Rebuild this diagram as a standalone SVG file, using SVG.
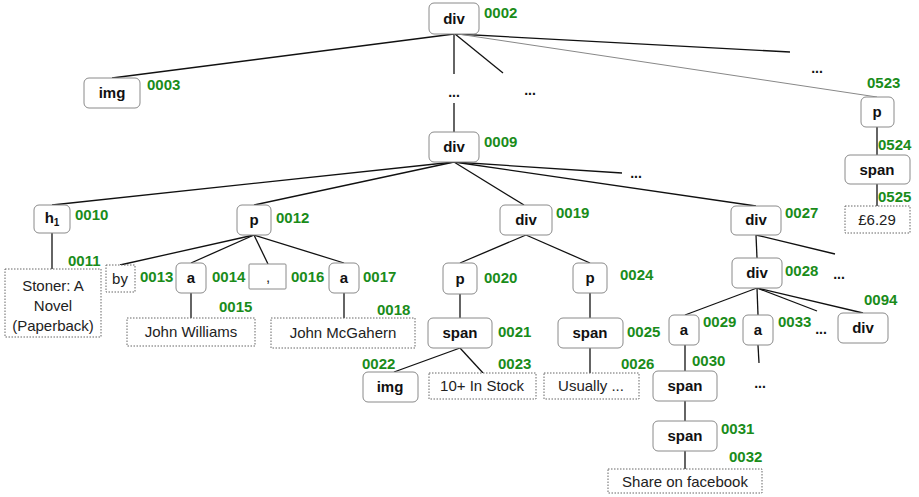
<svg xmlns="http://www.w3.org/2000/svg" width="919" height="497" viewBox="0 0 919 497">
<style>
.n{fill:#fff;stroke:#8a8a8a;stroke-width:1}
.d{fill:#fff;stroke:#666;stroke-width:1;stroke-dasharray:1.5 1.5}
.s{fill:#fff;stroke:#8a8a8a;stroke-width:1}
.t{font-family:"Liberation Sans",Arial,sans-serif;font-size:15px;font-weight:bold;fill:#111;text-anchor:middle}
.r{font-family:"Liberation Sans",Arial,sans-serif;font-size:15px;fill:#222;text-anchor:middle}
.l{font-family:"Liberation Sans",Arial,sans-serif;font-size:15px;font-weight:bold;fill:#1a8c1a}
.e{font-family:"Liberation Sans",Arial,sans-serif;font-size:14px;font-weight:bold;fill:#111;text-anchor:middle}
#edges line{stroke:#111;stroke-width:1.3}
#edges line.g{stroke:#888;stroke-width:1}
</style>
<rect width="919" height="497" fill="#fff"/>
<g id="edges">
<line x1="454" y1="34" x2="112" y2="78"/>
<line x1="454" y1="34" x2="454" y2="74"/>
<line x1="454" y1="103" x2="454" y2="132"/>
<line x1="455" y1="34" x2="503" y2="73"/>
<line x1="456" y1="34" x2="790" y2="52"/>
<line class="g" x1="458" y1="34" x2="877" y2="97"/>
<line x1="877" y1="127" x2="877" y2="155"/>
<line x1="877" y1="184" x2="877" y2="206"/>
<line x1="454" y1="162" x2="52" y2="205"/>
<line x1="454" y1="162" x2="254" y2="205"/>
<line x1="454" y1="162" x2="524" y2="205"/>
<line x1="454" y1="162" x2="622" y2="173"/>
<line x1="454" y1="162" x2="756" y2="206"/>
<line x1="52" y1="233" x2="52" y2="269"/>
<line x1="254" y1="235" x2="120" y2="265"/>
<line x1="254" y1="235" x2="191" y2="263"/>
<line x1="254" y1="235" x2="268" y2="264"/>
<line x1="254" y1="235" x2="344" y2="263"/>
<line x1="191" y1="293" x2="191" y2="318"/>
<line x1="344" y1="293" x2="344" y2="318"/>
<line x1="526" y1="235" x2="460" y2="263"/>
<line x1="526" y1="235" x2="590" y2="263"/>
<line x1="460" y1="294" x2="460" y2="318"/>
<line x1="590" y1="293" x2="590" y2="318"/>
<line x1="460" y1="348" x2="394" y2="372"/>
<line x1="460" y1="348" x2="483" y2="373"/>
<line x1="590" y1="348" x2="590" y2="373"/>
<line x1="756" y1="235" x2="757" y2="258"/>
<line x1="756" y1="235" x2="835" y2="254"/>
<line x1="757" y1="288" x2="685" y2="315"/>
<line x1="757" y1="288" x2="758" y2="315"/>
<line x1="757" y1="288" x2="817" y2="311"/>
<line x1="757" y1="288" x2="863" y2="313"/>
<line x1="758" y1="345" x2="759" y2="363"/>
<line x1="685" y1="345" x2="685" y2="371"/>
<line x1="685" y1="401" x2="685" y2="421"/>
<line x1="685" y1="451" x2="685" y2="469"/>
</g>
<g id="ellipses">
<text class="e" x="454" y="97">...</text>
<text class="e" x="530" y="95">...</text>
<text class="e" x="817" y="73">...</text>
<text class="e" x="636" y="178">...</text>
<text class="e" x="839" y="279">...</text>
<text class="e" x="821" y="334">...</text>
<text class="e" x="760" y="388">...</text>
</g>
<g id="n0002"><rect class="n" x="429" y="3" width="50" height="31" rx="5"/><text class="t" x="454" y="24">div</text><text class="l" x="484" y="18">0002</text></g>
<g id="n0003"><rect class="n" x="84" y="78" width="56" height="30" rx="5"/><text class="t" x="112" y="98">img</text><text class="l" x="147" y="90">0003</text></g>
<g id="n0523"><rect class="n" x="861" y="97" width="33" height="30" rx="5"/><text class="t" x="877" y="117">p</text><text class="l" x="867" y="88">0523</text></g>
<g id="n0524"><rect class="n" x="845" y="155" width="65" height="29" rx="5"/><text class="t" x="877" y="175">span</text><text class="l" x="878" y="150">0524</text></g>
<g id="n0525"><rect class="d" x="845" y="206" width="65" height="27"/><text class="r" x="877" y="225">£6.29</text><text class="l" x="878" y="202">0525</text></g>
<g id="n0009"><rect class="n" x="429" y="132" width="50" height="30" rx="5"/><text class="t" x="454" y="152">div</text><text class="l" x="484" y="147">0009</text></g>
<g id="n0010"><rect class="n" x="34" y="205" width="36" height="28" rx="5"/><text class="t" x="52" y="223">h<tspan font-size="10" dy="3">1</tspan></text><text class="l" x="75" y="220">0010</text></g>
<g id="n0012"><rect class="n" x="237" y="205" width="34" height="30" rx="5"/><text class="t" x="254" y="225">p</text><text class="l" x="276" y="223">0012</text></g>
<g id="n0019"><rect class="n" x="500" y="205" width="52" height="30" rx="5"/><text class="t" x="526" y="225">div</text><text class="l" x="556" y="218">0019</text></g>
<g id="n0027"><rect class="n" x="731" y="206" width="50" height="29" rx="5"/><text class="t" x="756" y="225">div</text><text class="l" x="785" y="218">0027</text></g>
<g id="n0011"><rect class="d" x="5" y="269" width="96" height="68"/><text class="r" x="53" y="291">Stoner: A</text><text class="r" x="53" y="311">Novel</text><text class="r" x="53" y="331">(Paperback)</text><text class="l" x="68" y="266">0011</text></g>
<g id="n0013"><rect class="d" x="106" y="265" width="29" height="27"/><text class="r" x="120" y="284">by</text><text class="l" x="140" y="282">0013</text></g>
<g id="n0014"><rect class="n" x="176" y="263" width="30" height="30" rx="5"/><text class="t" x="191" y="283">a</text><text class="l" x="212" y="282">0014</text></g>
<g id="n0016"><rect class="s" x="249" y="264" width="37" height="25" rx="1"/><text class="r" x="268" y="282">,</text><text class="l" x="291" y="282">0016</text></g>
<g id="n0017"><rect class="n" x="329" y="263" width="30" height="30" rx="5"/><text class="t" x="344" y="283">a</text><text class="l" x="363" y="282">0017</text></g>
<g id="n0015"><rect class="d" x="127" y="318" width="128" height="28"/><text class="r" x="191" y="337">John Williams</text><text class="l" x="219" y="312">0015</text></g>
<g id="n0018"><rect class="d" x="271" y="318" width="144" height="30"/><text class="r" x="343" y="338">John McGahern</text><text class="l" x="377" y="315">0018</text></g>
<g id="n0020"><rect class="n" x="443" y="263" width="34" height="31" rx="5"/><text class="t" x="460" y="284">p</text><text class="l" x="484" y="283">0020</text></g>
<g id="n0024"><rect class="n" x="573" y="263" width="34" height="30" rx="5"/><text class="t" x="590" y="283">p</text><text class="l" x="620" y="280">0024</text></g>
<g id="n0021"><rect class="n" x="428" y="318" width="64" height="30" rx="5"/><text class="t" x="460" y="338">span</text><text class="l" x="498" y="337">0021</text></g>
<g id="n0025"><rect class="n" x="558" y="318" width="65" height="30" rx="5"/><text class="t" x="590" y="338">span</text><text class="l" x="627" y="337">0025</text></g>
<g id="n0022"><rect class="n" x="363" y="372" width="55" height="30" rx="5"/><text class="t" x="390" y="392">img</text><text class="l" x="362" y="369">0022</text></g>
<g id="n0023"><rect class="d" x="429" y="373" width="107" height="26"/><text class="r" x="482" y="391">10+ In Stock</text><text class="l" x="498" y="369">0023</text></g>
<g id="n0026"><rect class="d" x="544" y="373" width="95" height="26"/><text class="r" x="591" y="391">Usually ...</text><text class="l" x="621" y="369">0026</text></g>
<g id="n0028"><rect class="n" x="732" y="258" width="50" height="30" rx="5"/><text class="t" x="757" y="278">div</text><text class="l" x="785" y="276">0028</text></g>
<g id="n0029"><rect class="n" x="669" y="315" width="30" height="30" rx="5"/><text class="t" x="684" y="335">a</text><text class="l" x="703" y="327">0029</text></g>
<g id="n0033"><rect class="n" x="743" y="315" width="30" height="30" rx="5"/><text class="t" x="758" y="335">a</text><text class="l" x="778" y="327">0033</text></g>
<g id="n0094"><rect class="n" x="838" y="313" width="50" height="30" rx="5"/><text class="t" x="863" y="333">div</text><text class="l" x="864" y="305">0094</text></g>
<g id="n0030"><rect class="n" x="653" y="371" width="64" height="30" rx="5"/><text class="t" x="685" y="391">span</text><text class="l" x="692" y="366">0030</text></g>
<g id="n0031"><rect class="n" x="653" y="421" width="64" height="30" rx="5"/><text class="t" x="685" y="441">span</text><text class="l" x="721" y="434">0031</text></g>
<g id="n0032"><rect class="d" x="608" y="469" width="154" height="24"/><text class="r" x="685" y="487">Share on facebook</text><text class="l" x="729" y="462">0032</text></g>
</svg>
